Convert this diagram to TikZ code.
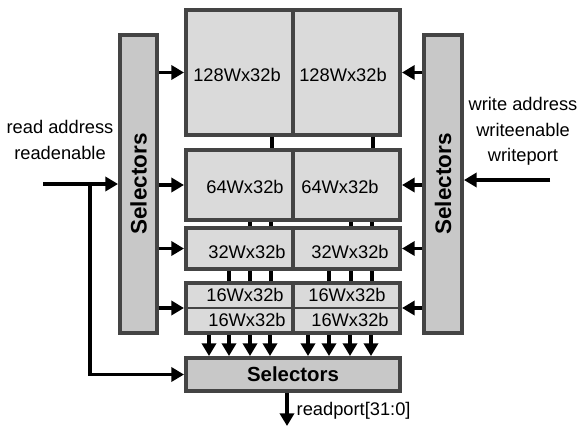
\documentclass[tikz,border=0pt]{standalone}
\usepackage{fontspec}
\setmainfont{Liberation Sans}
\usepackage{xcolor}
\definecolor{cinzaB}{RGB}{68,68,68}
\definecolor{cinzaM}{RGB}{218,218,218}
\definecolor{cinzaS}{RGB}{200,200,200}
\usepackage{tikz}
\usetikzlibrary{arrows.meta,positioning,calc}

\tikzset{
  bloco/.style={draw=cinzaB, fill=cinzaM, line width=2.8pt,
    minimum width=5.35cm, inner sep=0pt},
  seletor/.style={draw=cinzaB, fill=cinzaS, line width=2.8pt, inner sep=0pt},
  seta/.style={line width=2.4pt, -{Triangle[length=9pt,width=10pt]}},
  fio/.style={line width=2.4pt},
  rotulo/.style={font=\fontsize{13}{18}\selectfont, inner sep=1pt},
}

\begin{document}
\begin{tikzpicture}[x=0.025cm, y=-0.025cm]
        \useasboundingbox (0,0) rectangle (577,428);
        % blocos de memoria
        \node[bloco, minimum height=3.125cm] (b128) at (293,72.5) {};
        \node[bloco, minimum height=1.75cm] (b64) at (293,185) {};
        \node[bloco, minimum height=1.025cm] (b32) at (293,248.5) {};
        \node[bloco, minimum height=1.25cm] (b16) at (293,308) {};
        \draw[draw=cinzaB, line width=0.8pt] (b16.west) -- (b16.east);
        \foreach \b in {b128,b64,b32,b16}
          \draw[draw=cinzaB, line width=2.8pt] (\b.north) -- (\b.south);
        \foreach \x/\y/\txt [count=\i] in {
          237/75/128Wx32b, 343/75/128Wx32b,
          245/187/64Wx32b, 340/187/64Wx32b,
          247/252/32Wx32b, 350/252/32Wx32b,
          245/295/16Wx32b, 347/295/16Wx32b,
          247/320/16Wx32b, 350/320/16Wx32b%
        }{
          \node[rotulo] (lab\i) at (\x,\y) {\txt};
        }
        % barramentos entre blocos
        \foreach \dx in {-21,80}
          \draw[fio] ($(b128.south)+(\dx,0)$) -- ($(b64.north)+(\dx,0)$);
        \foreach \dx in {-43,-22,58,79}
          \draw[fio] ($(b64.south)+(\dx,0)$) -- ($(b32.north)+(\dx,0)$);
        \foreach \dx in {-64,-43,-22,36,58,79}
          \draw[fio] ($(b32.south)+(\dx,0)$) -- ($(b16.north)+(\dx,0)$);
        % seletores
        \node[seletor, minimum width=0.925cm, minimum height=7.45cm] (selL) at (138.5,184) {};
        \node[font=\bfseries\fontsize{16}{18}\selectfont, rotate=90] (tL) at (selL) {Selectors};
        \node[seletor, minimum width=0.95cm, minimum height=7.45cm] (selR) at (443,184) {};
        \node[font=\bfseries\fontsize{16}{18}\selectfont, rotate=90] (tR) at (selR) {Selectors};
        \node[seletor, minimum width=5.35cm, minimum height=0.825cm,
        font=\bfseries\fontsize{14.5}{16}\selectfont] (selB) at (293,374.5) {Selectors};
        \foreach \b in {b128,b64,b32,b16}{
          \draw[seta] (selL.east |- \b.west) -- (\b.west);
          \draw[seta] (selR.west |- \b.east) -- (\b.east);
        }
        \foreach \dx in {-84,-64,-43,-23,15,36,57,78}
          \draw[seta] ($(b16.south)+(\dx,0)$) -- ($(selB.north)+(\dx,0)$);
        % leitura
        \coordinate (rIn) at (43,184);
        \coordinate (rRamo) at (90,184);
        \draw[seta] (rIn) -- (selL.west);
        \draw[seta] (rRamo) |- (selB.west);
        \node[rotulo, align=center] (rTxt) at (60,140) {read address\\readenable};
        % escrita
        \coordinate (wIn) at (550,180);
        \draw[seta] (wIn) -- (wIn -| selR.east);
        \node[rotulo, align=center] (wTxt) at (523,131.5) {write address\\writeenable\\writeport};
        % saida
        \coordinate (saida) at (287,426);
        \draw[seta] (selB.south -| saida) -- (saida);
        \node[rotulo, anchor=west] (sTxt) at (295,411) {readport[31:0]};
      \end{tikzpicture}
\end{document}
